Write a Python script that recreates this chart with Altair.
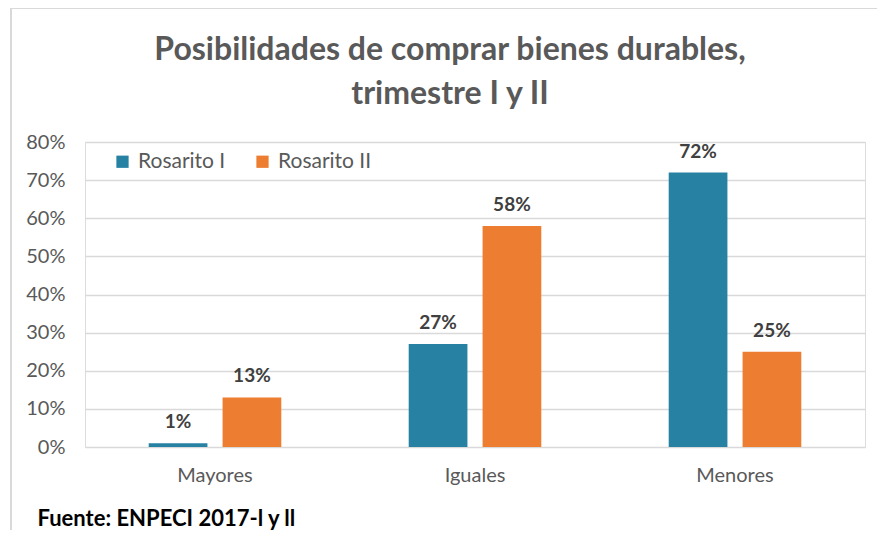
import altair as alt
import pandas as pd

categories = ["Mayores", "Iguales", "Menores"]
series = ["Rosarito I", "Rosarito II"]
rosarito_1 = [0.01, 0.27, 0.72]
rosarito_2 = [0.13, 0.58, 0.25]
y_ticks = [0, 0.1, 0.2, 0.3, 0.4, 0.5, 0.6, 0.7, 0.8]
colors = ["#2681a2", "#ed7d31"]

rows = []
for c, a, b in zip(categories, rosarito_1, rosarito_2):
    rows.append({"cat": c, "serie": series[0], "val": a})
    rows.append({"cat": c, "serie": series[1], "val": b})
df = pd.DataFrame(rows)

FONT = "Lato"
GRAY = "#595959"

x = alt.X("cat:N", sort=categories,
          scale=alt.Scale(paddingInner=0.49, paddingOuter=0.245),
          axis=alt.Axis(title="Fuente: ENPECI 2017-l y ll", labelAngle=0, labelFontSize=20,
                        labelColor=GRAY, labelFont=FONT, labelPadding=18,
                        ticks=False, domain=False,
                        titleFont=FONT, titleFontSize=22, titleFontWeight="bold",
                        titleColor="#000000", titleAnchor="start", titleAlign="left",
                        titleBaseline="alphabetic", titleX=-48, titleY=78))
xo = alt.XOffset("serie:N", sort=series,
                 scale=alt.Scale(paddingInner=0.205, paddingOuter=0))
y = alt.Y("val:Q", scale=alt.Scale(domain=[0, 0.8]),
          axis=alt.Axis(title=None, values=y_ticks, format=".0%", labelFontSize=20,
                        labelColor=GRAY, labelFont=FONT, labelPadding=20,
                        ticks=False, domain=False, gridColor="#d9d9d9", gridWidth=1.5))
color = alt.Color("serie:N", sort=series,
                  scale=alt.Scale(domain=series, range=colors),
                  legend=alt.Legend(title=None, orient="none", legendX=27, legendY=9,
                                    direction="horizontal", symbolType="square",
                                    symbolSize=150, symbolStrokeWidth=0,
                                    labelFontSize=21, labelColor=GRAY, labelFont=FONT,
                                    columnPadding=26, labelOffset=5))

bars = alt.Chart(df).mark_bar().encode(x=x, xOffset=xo, y=y, color=color)
labels = alt.Chart(df).mark_text(baseline="alphabetic", dy=-15, fontSize=19,
                                 fontWeight="bold", color="#404040", font=FONT).encode(
    x=x, xOffset=xo, y=y, text=alt.Text("val:Q", format=".0%"))

border_df = pd.DataFrame({"k": [0]})
left_border = alt.Chart(border_df).mark_rule(color="#d9d9d9", strokeWidth=2).encode(
    x=alt.value(-74), y=alt.value(-134), y2=alt.value(400))
top_border = alt.Chart(border_df).mark_rule(color="#d9d9d9", strokeWidth=2).encode(
    x=alt.value(-74), x2=alt.value(800), y=alt.value(-134))

chart = alt.layer(bars, labels, left_border, top_border).properties(
    width=780, height=305,
    padding={"left": 77, "top": 134, "right": 12, "bottom": 83},
    autosize=alt.AutoSizeParams(type="none"),
    title=alt.TitleParams(["Posibilidades de comprar bienes durables,", "trimestre I y II"],
                          font=FONT, fontSize=32, fontWeight="bold", color=GRAY,
                          anchor="middle", dx=-25, lineHeight=44, offset=-104),
).configure_view(stroke=None).configure(background="white")

chart.save("out.html", embed_options={"renderer": "svg", "actions": False})
